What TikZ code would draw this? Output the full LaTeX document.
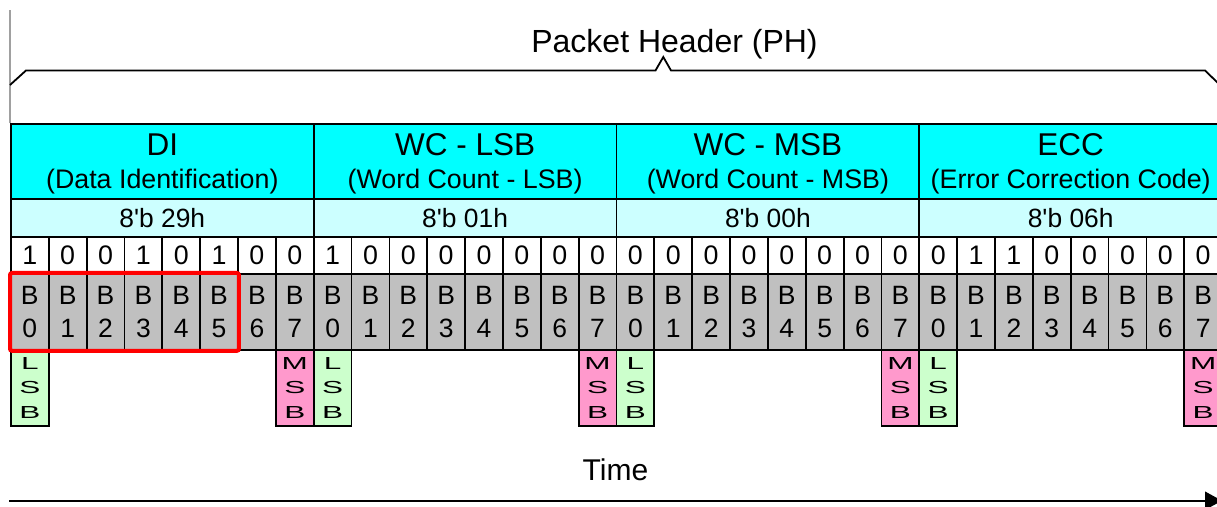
\documentclass[tikz,border=0pt]{standalone}
\usepackage{fontspec}
\setmainfont{Liberation Sans}
\usepackage{graphicx}
\usepackage{tikz}
\usetikzlibrary{arrows.meta}
\definecolor{fieldCyan}{RGB}{0,255,255}
\definecolor{hexCyan}{RGB}{204,255,255}
\definecolor{bitGray}{RGB}{192,192,192}
\definecolor{lsbGreen}{RGB}{204,255,204}
\definecolor{msbPink}{RGB}{255,153,204}
\definecolor{guideGray}{RGB}{160,160,160}
\newcommand{\fsz}[2]{\fontsize{#1}{#2}\selectfont}
\newcommand{\squash}[1]{\scalebox{1.05}[0.58]{#1}}

\begin{document}
\begin{tikzpicture}[x=0.5pt,y=-0.5pt,line join=miter,
  cellbox/.style={draw=black,line width=0.9pt,anchor=north west,inner sep=0pt,align=center},
  fieldcell/.style={cellbox,fill=fieldCyan,minimum width=151.4pt,minimum height=37.5pt,font=\fsz{15.75}{16.5}},
  hexcell/.style={cellbox,fill=hexCyan,minimum width=151.4pt,minimum height=18.75pt,font=\fsz{13.2}{16}},
  bitcell/.style={cellbox,fill=white,minimum width=18.925pt,minimum height=18.5pt,font=\fsz{13.4}{16}},
  namecell/.style={cellbox,fill=bitGray,minimum width=18.925pt,minimum height=38pt,font=\fsz{13.25}{16.5}},
  endcell/.style={cellbox,minimum width=18.925pt,minimum height=38pt,font=\fsz{15}{12.25}},
  hilite/.style={draw=red,line width=2pt,rounded corners=1pt},
  timeline/.style={-{Triangle[length=8.5pt,width=9pt]},line width=1pt}]
  \useasboundingbox (0,0) rectangle (1217,507);
  \clip (0,0) rectangle (1217,507);
  % field names and hex values, one byte each
  \foreach \nm/\full/\hex [count=\i from 0] in
      {DI/Data Identification/29h, WC - LSB/Word Count - LSB/01h,
       WC - MSB/Word Count - MSB/00h, ECC/Error Correction Code/06h} {
    \node[fieldcell] (fld\i) at (10+302.8*\i,123.5)
      {\rule{0pt}{13.3pt}\nm\\{\fsz{13.4}{16.5}(\full)}};
    \node[hexcell] (hex\i) at (10+302.8*\i,198.5) {8\textquotesingle b \hex};
  }
  % bit values and bit names, LSB first
  \foreach \b [count=\n from 0] in {1,0,0,1,0,1,0,0, 1,0,0,0,0,0,0,0,
                                    0,0,0,0,0,0,0,0, 0,1,1,0,0,0,0,0} {
    \pgfmathtruncatemacro\k{mod(\n,8)}
    \node[bitcell] (bv\n) at (10+37.85*\n,236) {\b};
    \node[namecell] (bn\n) at (10+37.85*\n,273) {B\\\k};
  }
  % LSB / MSB markers below each byte
  \foreach \i in {0,...,3} {
    \node[endcell,fill=lsbGreen] (lsb\i) at (10+302.8*\i,349)
      {\squash{L}\\\squash{S}\\\squash{B}};
    \node[endcell,fill=msbPink] (msb\i) at (10+302.8*\i+264.95,349)
      {\squash{M}\\\squash{S}\\\squash{B}};
  }
  % highlighted data type bits
  \draw[hilite] (bn0.north west) rectangle (bn5.south east);
  % packet header brace
  \draw[guideGray,line width=1pt] (fld0.north west) -- ++(0,-113.5);
  \draw[line width=0.9pt] (10,85) -- (26,70.5) -- (655.5,70.5) -- (663.3,57)
    -- (671,70.5) -- (1205,70.5) -- (1220,85);
  \node[font=\fsz{16}{18},anchor=base] (ph) at (674.5,53) {Packet Header (PH)};
  % time axis
  \coordinate (t0) at (9,500.7);
  \coordinate (t1) at (1222,500.7);
  \draw[timeline] (t0) -- (t1);
  \node[font=\fsz{15}{18},anchor=base] (time) at (615.5,481) {Time};
\end{tikzpicture}
\end{document}
